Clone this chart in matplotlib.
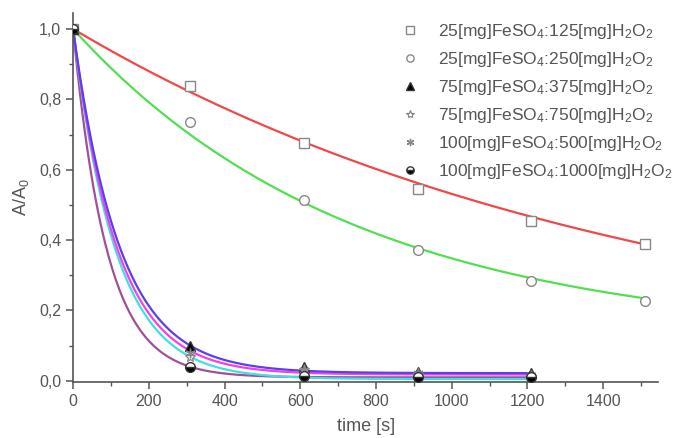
import numpy as np
import matplotlib
matplotlib.use("Agg")
import matplotlib.pyplot as plt
from matplotlib.ticker import MultipleLocator, FuncFormatter

# measured points
t_slow = [0, 310, 610, 910, 1210, 1510]
t_fast = [0, 310, 610, 910, 1210]

y_25_125 = [1.0, 0.838, 0.676, 0.546, 0.455, 0.389]
y_25_250 = [1.0, 0.737, 0.513, 0.372, 0.284, 0.228]
y_75_375 = [1.0, 0.100, 0.040, 0.025, 0.022]
y_75_750 = [1.0, 0.068, 0.030, 0.018, 0.012]
y_100_500 = [1.0, 0.080, 0.032, 0.022, 0.018]
y_100_1000 = [1.0, 0.040, 0.015, 0.012, 0.010]

# exponential decay fit parameters y = y0 + (1 - y0) * exp(-k t)
fit_y0 = {"25_125": 0.03, "25_250": 0.12, "75_375": 0.022, "75_750": 0.005,
          "100_500": 0.018, "100_1000": 0.010}
fit_k = {"25_125": 0.00066, "25_250": 0.00135, "75_375": 0.00816, "75_750": 0.0089,
         "100_500": 0.00866, "100_1000": 0.01128}
fit_tmax = {"25_125": 1510, "25_250": 1510, "75_375": 1210, "75_750": 1210,
            "100_500": 1210, "100_1000": 1210}

labels = {
    "25_125": r"25[mg]FeSO$_4$:125[mg]H$_2$O$_2$",
    "25_250": r"25[mg]FeSO$_4$:250[mg]H$_2$O$_2$",
    "75_375": r"75[mg]FeSO$_4$:375[mg]H$_2$O$_2$",
    "75_750": r"75[mg]FeSO$_4$:750[mg]H$_2$O$_2$",
    "100_500": r"100[mg]FeSO$_4$:500[mg]H$_2$O$_2$",
    "100_1000": r"100[mg]FeSO$_4$:1000[mg]H$_2$O$_2$",
}

plt.rcParams.update({"font.family": ["Liberation Sans", "DejaVu Sans"], "mathtext.fontset": "custom",
                     "mathtext.rm": "Liberation Sans", "mathtext.it": "Liberation Sans"})

fig = plt.figure(figsize=(6.77, 4.38), dpi=100)
ax = fig.add_axes([0.108, 0.128, 0.864, 0.842])

curve_colors = {"25_125": "#f04848", "25_250": "#50e050", "75_375": "#5a40e8",
                "75_750": "#40e0e0", "100_500": "#f040f0", "100_1000": "#a0509a"}
draw_order = ["25_125", "25_250", "100_1000", "75_750", "100_500", "75_375"]
for key in draw_order:
    tt = np.linspace(0, fit_tmax[key], 400)
    yy = fit_y0[key] + (1 - fit_y0[key]) * np.exp(-fit_k[key] * tt)
    ax.plot(tt, yy, color=curve_colors[key], lw=1.6, zorder=2)

gray = "#888888"
ax.plot(t_slow, y_25_125, ls="none", marker="s", ms=7, mfc="white", mec=gray, mew=1.0,
        label=labels["25_125"], zorder=3)
ax.plot(t_slow, y_25_250, ls="none", marker="o", ms=7, mfc="white", mec=gray, mew=1.0,
        label=labels["25_250"], zorder=3)
ax.plot(t_fast, y_75_375, ls="none", marker="^", ms=7, mfc="black", mec="#333333", mew=1.0,
        label=labels["75_375"], zorder=4)
ax.plot(t_fast, y_75_750, ls="none", marker="*", ms=8, mfc="white", mec=gray, mew=0.9,
        label=labels["75_750"], zorder=4)
ax.plot(t_fast, y_100_500, ls="none", marker=(6, 2, 0), ms=7, color=gray, mew=1.0,
        label=labels["100_500"], zorder=4)
ax.plot(t_fast, y_100_1000, ls="none", marker="o", ms=7, fillstyle="bottom", mfc="black",
        mfcalt="white", mec="#333333", mew=1.0, label=labels["100_1000"], zorder=4)

ax.set_xlim(0, 1545)
ax.set_ylim(-0.003, 1.045)
ax.xaxis.set_major_locator(MultipleLocator(200))
ax.xaxis.set_minor_locator(MultipleLocator(100))
ax.yaxis.set_major_locator(MultipleLocator(0.2))
ax.yaxis.set_minor_locator(MultipleLocator(0.1))
ax.yaxis.set_major_formatter(FuncFormatter(lambda v, p: f"{v:.1f}".replace(".", ",")))

for side in ["top", "right"]:
    ax.spines[side].set_visible(False)
for side in ["left", "bottom"]:
    ax.spines[side].set_color("#555555")
    ax.spines[side].set_linewidth(1.2)
ax.tick_params(which="major", direction="out", length=5, width=1.1, color="#555555",
               labelsize=11.5, labelcolor="#555555")
ax.tick_params(which="minor", direction="out", length=3, width=1.0, color="#555555")

ax.set_xlabel("time [s]", fontsize=13, color="#555555", labelpad=7)
ax.set_ylabel(r"A/A$_0$", fontsize=13, color="#555555", labelpad=6)

ax.legend(loc="upper right", bbox_to_anchor=(1.037, 0.995), frameon=False, fontsize=12.5,
          labelcolor="#555555", handletextpad=0.9, labelspacing=0.52, borderaxespad=0.0,
          markerscale=0.75, handlelength=1.5)

fig.savefig("out.png", dpi=100)
